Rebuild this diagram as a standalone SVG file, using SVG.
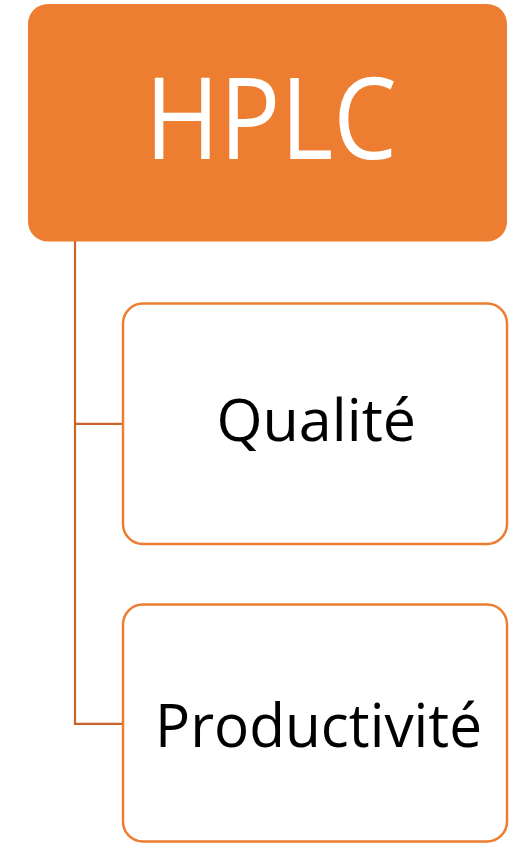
<svg xmlns="http://www.w3.org/2000/svg" width="513" height="843" viewBox="0 0 513 843">
  <style>
    .child rect { fill: #ffffff; stroke: #ED7D31; stroke-width: 2.5; }
    .child text { font-family: "Open Sans", "Liberation Sans", sans-serif; fill: #000000; }
    .conn { fill: none; stroke: #C9652A; stroke-width: 2.2; }
  </style>
  <g id="connectors">
    <path class="conn" d="M75,241 V723.8 H123"/>
    <path class="conn" d="M75,423.8 H123"/>
  </g>
  <g id="hplc">
    <rect x="28" y="4" width="479" height="237.5" rx="20" ry="20" fill="#ED7D31"/>
    <text x="145" y="159" font-family="Open Sans, Liberation Sans, sans-serif" font-size="113" fill="#ffffff" textLength="252" lengthAdjust="spacingAndGlyphs">HPLC</text>
  </g>
  <g id="qualite" class="child">
    <rect x="123" y="303.5" width="384" height="240.5" rx="20" ry="20"/>
    <text x="216.5" y="441" font-size="58" textLength="199.5" lengthAdjust="spacingAndGlyphs">Qualité</text>
  </g>
  <g id="productivite" class="child">
    <rect x="123" y="604.5" width="384" height="237" rx="20" ry="20"/>
    <text x="155" y="746.5" font-size="61" textLength="327" lengthAdjust="spacingAndGlyphs">Productivité</text>
  </g>
</svg>
